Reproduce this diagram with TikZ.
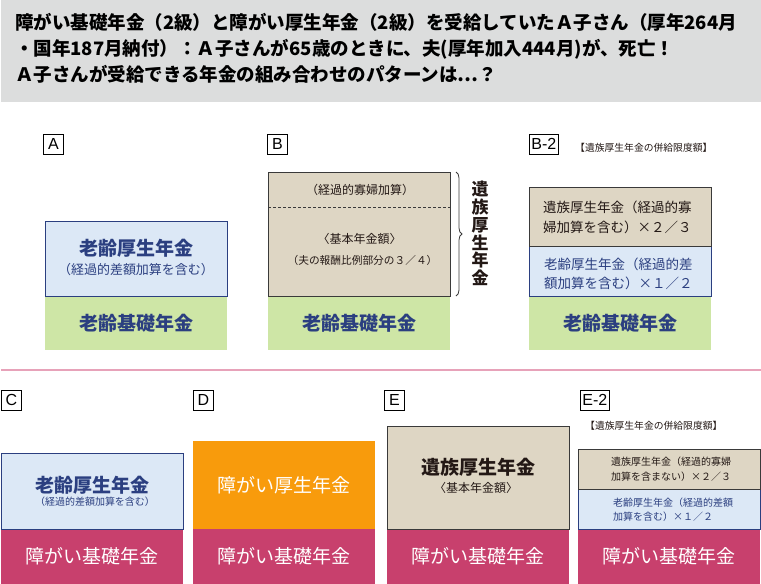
\documentclass[tikz,border=0pt]{standalone}
\usepackage{fontspec}
\setmainfont{Noto Sans CJK JP}
\newfontfamily\tagfont{Liberation Sans}
\usepackage{xcolor}
\usepackage{tikz}
\usetikzlibrary{positioning,decorations.pathreplacing}
\definecolor{titlegray}{HTML}{DCDDDD}
\definecolor{navy}{HTML}{2B3F80}
\definecolor{paleblue}{HTML}{DCE8F6}
\definecolor{kisogreen}{HTML}{CEE6A6}
\definecolor{izokutan}{HTML}{DED6C4}
\definecolor{shogaipink}{HTML}{C8406D}
\definecolor{shogaiorange}{HTML}{F89B0C}
\definecolor{rulepink}{HTML}{E7A2B9}
\definecolor{darkline}{HTML}{3A3A3A}
\definecolor{inkblack}{HTML}{231815}
\newcommand{\jfs}[1]{\fontsize{#1}{#1}\selectfont}
\newcommand{\jfsl}[2]{\fontsize{#1}{#2}\selectfont}
\tikzset{
  panel/.style={rectangle,inner sep=0pt,outer sep=0pt,minimum width=182pt,minimum height=#1,align=center},
  greenbox/.style={panel=54pt,fill=kisogreen,text=navy,font=\jfs{19}\bfseries},
  pinkbox/.style={panel=55pt,fill=shogaipink,text=white,font=\jfs{19}},
  orangebox/.style={panel=#1,fill=shogaiorange,text=white,font=\jfs{19}},
  bluebox/.style={panel=#1,draw=navy,fill=paleblue,line width=1pt},
  tanbox/.style={panel=#1,draw=darkline,fill=izokutan,line width=0.9pt},
  tagbox/.style={draw=black,line width=0.8pt,minimum width=20pt,minimum height=20pt,inner sep=2pt,
    anchor=north west,font=\tagfont\jfs{16}},
  bigtxt/.style={inner sep=0pt,font=\jfs{19}\bfseries,text=#1},
  bigtxt/.default=navy,
  smalltxt/.style={inner sep=0pt,align=left,text=inkblack},
  limitnote/.style={inner sep=0pt,anchor=west,text=inkblack,font=\jfs{9.8}},
  sidebrace/.style={decorate,decoration={brace,amplitude=6pt},line width=0.8pt,draw=darkline}
}

\begin{document}
\begin{tikzpicture}[x=1pt,y=-1pt]
\useasboundingbox (0,0) rectangle (761,584);
\node[fill=titlegray,minimum width=760pt,minimum height=102pt,inner sep=0pt,anchor=north west] (band) at (1,0) {};
\node[anchor=west,inner sep=0pt,align=left,text=black,font=\jfsl{18.5}{26}\bfseries] (question) at (15,48)
  {障がい基礎年金（2級）と障がい厚生年金（2級）を受給していたＡ子さん（厚年264月\\
   ・国年187月納付）：Ａ子さんが65歳のときに、夫(厚年加入444月)が、死亡！\\
   Ａ子さんが受給できる年金の組み合わせのパターンは…？};

\node[tagbox] (tagA) at (43,134) {A};
\node[greenbox] (kisoA) at (136,323) {老齢基礎年金};
\node[bluebox=75pt,above=0pt of kisoA] (koseiA) {};
\node[bigtxt] (koseiAtxt) at (136,248) {老齢厚生年金};
\node[smalltxt,text=navy,font=\jfs{13}] (koseiAsub) at (136,270) {（経過的差額加算を含む）};

\node[tagbox] (tagB) at (267,134) {B};
\node[greenbox] (kisoB) at (359,323) {老齢基礎年金};
\node[tanbox=124pt,above=0pt of kisoB] (izokuB) {};
\draw[darkline,dash pattern=on 3pt off 2pt,line width=0.6pt] ([yshift=-35pt]izokuB.north west) -- ([yshift=-35pt]izokuB.north east);
\node[smalltxt,font=\jfs{12}] (kafuB) at (360,190) {（経過的寡婦加算）};
\node[smalltxt,font=\jfs{12}] (kihonB) at (359.5,239) {〈基本年金額〉};
\node[smalltxt,font=\jfs{10.7}] (hireiB) at (362.5,260) {（夫の報酬比例部分の３／４）};
\draw[sidebrace] ([xshift=6pt]izokuB.north east) -- ([xshift=6pt]izokuB.south east);
\node[align=center,inner sep=0pt,text=inkblack,font=\jfsl{17}{17.8}\bfseries] (izokuside) at (480,233.5) {遺\\族\\厚\\生\\年\\金};

\node[tagbox] (tagB2) at (529,134) {B-2};
\node[limitnote] (noteB2) at (575,148) {【遺族厚生年金の併給限度額】};
\node[greenbox] (kisoB2) at (620,323) {老齢基礎年金};
\node[bluebox=50pt,above=0pt of kisoB2] (koseiB2) {};
\node[tanbox=59pt,above=0pt of koseiB2] (izokuB2) {};
\node[smalltxt,anchor=west,font=\jfsl{13.5}{20}] (izokuB2txt) at (543,217) {遺族厚生年金（経過的寡\\婦加算を含む）×２／３};
\node[smalltxt,anchor=west,text=navy,font=\jfsl{13.5}{19}] (koseiB2txt) at (544,273.5) {老齢厚生年金（経過的差\\額加算を含む）×１／２};

\draw[rulepink,line width=2pt] (1,370) -- (761,370);

\node[tagbox] (tagC) at (1,390) {C};
\node[pinkbox] (shogaiC) at (92,556.5) {障がい基礎年金};
\node[bluebox=76pt,above=0pt of shogaiC] (koseiC) {};
\node[bigtxt] (koseiCtxt) at (92,485) {老齢厚生年金};
\node[smalltxt,text=navy,font=\jfs{10}] (koseiCsub) at (95,502) {（経過的差額加算を含む）};

\node[tagbox] (tagD) at (193,390) {D};
\node[pinkbox] (shogaiD) at (284,556.5) {障がい基礎年金};
\node[orangebox=88pt,above=0pt of shogaiD] (koseiD) {障がい厚生年金};

\node[tagbox] (tagE) at (384,390) {E};
\node[pinkbox] (shogaiE) at (478,556.5) {障がい基礎年金};
\node[tanbox=103pt,above=0pt of shogaiE] (izokuE) {};
\node[bigtxt=inkblack] (izokuEtxt) at (478.5,467) {遺族厚生年金};
\node[smalltxt,font=\jfs{12}] (kihonE) at (476,488) {〈基本年金額〉};

\node[tagbox] (tagE2) at (580,390) {E-2};
\node[limitnote] (noteE2) at (585,426) {【遺族厚生年金の併給限度額】};
\node[pinkbox] (shogaiE2) at (669,556.5) {障がい基礎年金};
\node[bluebox=40pt,above=0pt of shogaiE2] (koseiE2) {};
\node[tanbox=40pt,above=0pt of koseiE2] (izokuE2) {};
\node[smalltxt,anchor=west,font=\jfsl{10}{15}] (izokuE2txt) at (611,469.5) {遺族厚生年金（経過的寡婦\\加算を含まない）×２／３};
\node[smalltxt,anchor=west,text=navy,font=\jfsl{10}{14}] (koseiE2txt) at (613,510) {老齢厚生年金（経過的差額\\加算を含む）×１／２};
\end{tikzpicture}
\end{document}
